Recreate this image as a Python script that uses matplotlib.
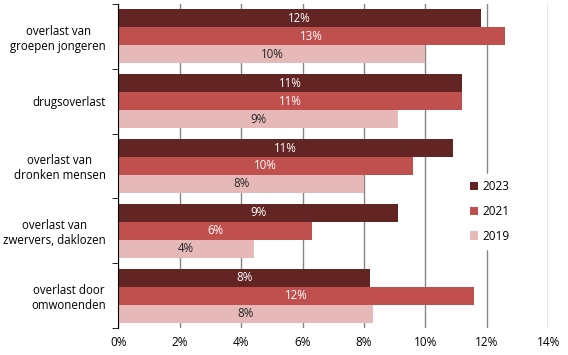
import matplotlib.pyplot as plt
import numpy as np

categories = ["overlast van\ngroepen jongeren", "drugsoverlast",
              "overlast van\ndronken mensen", "overlast van\nzwervers, daklozen",
              "overlast door\nomwonenden"]
years = ["2023", "2021", "2019"]
values_2023 = [11.8, 11.2, 10.9, 9.1, 8.2]
values_2021 = [12.6, 11.2, 9.6, 6.3, 11.6]
values_2019 = [10.0, 9.1, 8.0, 4.4, 8.3]
labels_2023 = ["12%", "11%", "11%", "9%", "8%"]
labels_2021 = ["13%", "11%", "10%", "6%", "12%"]
labels_2019 = ["10%", "9%", "8%", "4%", "8%"]
xticks = [0, 2, 4, 6, 8, 10, 12, 14]

colors = ["#632523", "#C0504D", "#E6B9B8"]
text_colors = ["white", "white", "#262626"]

plt.rcParams["font.family"] = ["Open Sans", "DejaVu Sans"]

fig = plt.figure(figsize=(5.68, 3.55), dpi=100)
ax = fig.add_axes([0.2086, 0.076, 0.7564, 0.913])

y = np.arange(len(categories))
h = 0.277
series = [values_2023, values_2021, values_2019]
labels = [labels_2023, labels_2021, labels_2019]
for i, (vals, labs) in enumerate(zip(series, labels)):
    pos = y + (i - 1) * h
    ax.barh(pos, vals, height=h, color=colors[i], label=years[i], zorder=2)
    for p, v, t in zip(pos, vals, labs):
        ax.text(v / 2, p, t, ha="center", va="center", fontsize=8.3,
                color=text_colors[i], zorder=3)

ax.set_xlim(0, 14)
ax.set_ylim(len(categories) - 0.5, -0.5)
ax.set_xticks(xticks)
ax.set_xticklabels([f"{t}%" for t in xticks], fontsize=8.5)
ax.set_yticks(y)
ax.set_yticklabels(categories, fontsize=8.3, multialignment="center")
ax.set_yticks(np.arange(len(categories) + 1) - 0.5, minor=True)
ax.tick_params(axis="y", which="major", length=0, pad=9)
ax.tick_params(axis="y", which="minor", length=4, direction="out", color="black")
ax.tick_params(axis="x", length=0, pad=6)
ax.grid(axis="x", color="#868686", linewidth=1, zorder=0)
for s in ["top", "right", "bottom"]:
    ax.spines[s].set_visible(False)
ax.spines["left"].set_color("black")
ax.spines["left"].set_zorder(4)

leg = ax.legend(loc="center left", bbox_to_anchor=(0.79, 0.36), frameon=True,
                facecolor="white", edgecolor="white", framealpha=1,
                fontsize=8.5, handlelength=0.7, handleheight=0.7,
                handletextpad=0.4, labelspacing=1.0, borderpad=0.5)
leg.set_zorder(5)

fig.savefig("out.png", dpi=100)
